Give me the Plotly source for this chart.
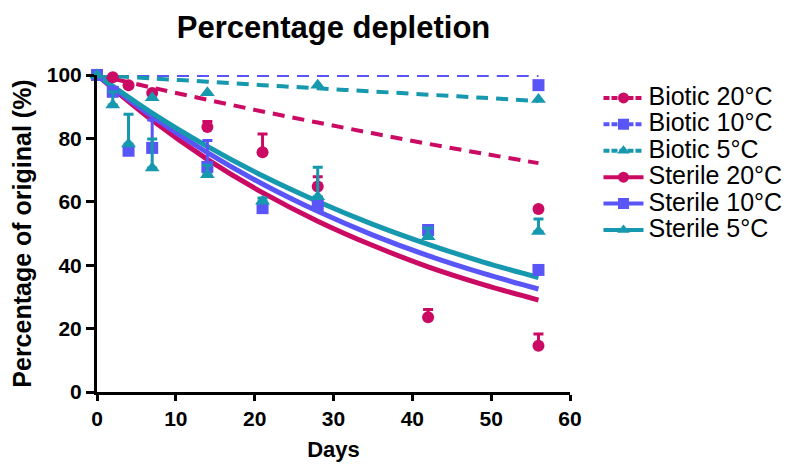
import plotly.graph_objects as go

# colours
c20 = '#CB0A63'
c10 = '#5A55F7'
c5 = '#1698AE'

# measured points (days, % of original, upward error)
b20_days = [0, 2, 4, 7, 56]
b20_vals = [100, 99.3, 96.8, 94.3, 57.7]

b10_days = [0, 56]
b10_vals = [100, 96.8]

b5_days = [0, 7, 14, 28, 56]
b5_vals = [100, 92.8, 94.4, 96.8, 92.3]

s20_days = [0, 14, 21, 28, 42, 56]
s20_vals = [100, 83.6, 75.6, 64.8, 23.6, 14.6]
s20_err = [0, 1.7, 5.8, 3.1, 2.4, 3.7]

s10_days = [0, 2, 4, 7, 14, 21, 28, 42, 56]
s10_vals = [100, 94.7, 76.1, 77.0, 71.0, 58.0, 59.0, 51.1, 38.5]
s10_err = [0, 0, 0, 8.8, 8.3, 0, 2.0, 0, 0]

s5_days = [0, 2, 4, 7, 14, 21, 28, 42, 56]
s5_vals = [100, 90.5, 78.2, 70.7, 68.5, 60.2, 61.6, 49.0, 50.6]
s5_err = [0, 4.2, 9.4, 9.1, 3.0, 1.0, 9.3, 2.7, 4.0]

# fitted decay curves, read at weekly points
fit_days = [0, 7, 14, 21, 28, 35, 42, 49, 56]
fit_b20 = [100, 96.0, 92.2, 88.5, 85.0, 81.6, 78.3, 75.2, 72.2]
fit_b10 = [100, 100, 100, 100, 100, 100, 100, 100, 100]
fit_b5 = [100, 98.9, 97.9, 96.8, 95.8, 94.8, 93.8, 92.8, 91.8]
fit_s20 = [100, 85.7, 73.4, 62.9, 53.9, 46.2, 39.5, 33.9, 29.0]
fit_s10 = [100, 86.9, 75.5, 65.6, 57.0, 49.5, 43.0, 37.4, 32.5]
fit_s5 = [100, 88.0, 77.5, 68.2, 60.1, 52.9, 46.6, 41.0, 36.1]

names = ['Biotic 20°C', 'Biotic 10°C', 'Biotic 5°C',
         'Sterile 20°C', 'Sterile 10°C', 'Sterile 5°C']
colours = [c20, c10, c5, c20, c10, c5]
symbols = ['circle', 'square', 'triangle-up', 'circle', 'square', 'triangle-up']
sizes = [12, 12, 13, 12, 12, 13]
dashes = ['12px,8px'] * 3 + ['solid'] * 3
fits = [fit_b20, fit_b10, fit_b5, fit_s20, fit_s10, fit_s5]
points = [(b20_days, b20_vals, None), (b10_days, b10_vals, None), (b5_days, b5_vals, None),
          (s20_days, s20_vals, s20_err), (s10_days, s10_vals, s10_err), (s5_days, s5_vals, s5_err)]

fig = go.Figure()

# fit lines
for i in range(6):
    fig.add_trace(go.Scatter(x=fit_days, y=fits[i], mode='lines', showlegend=False,
                             line=dict(color=colours[i], width=5 if i > 2 else 4,
                                       dash=dashes[i], shape='spline'),
                             hoverinfo='skip'))

# data points
for i in range(6):
    d, v, e = points[i]
    err = None
    if e is not None:
        err = dict(type='data', symmetric=False, array=e, arrayminus=[0] * len(e),
                   color=colours[i], thickness=3, width=5)
    fig.add_trace(go.Scatter(x=d, y=v, mode='markers', showlegend=False, error_y=err,
                             marker=dict(color=colours[i], symbol=symbols[i], size=sizes[i]),
                             cliponaxis=False))

# legend entries (bigger text inside a tighter legend row)
for i in range(6):
    fig.add_trace(go.Scatter(x=[None], y=[None], mode='lines+markers',
                             name='<span style="font-size:25px">' + names[i] + '</span>',
                             line=dict(color=colours[i], width=4,
                                       dash='6px,2px' if i < 3 else 'solid'),
                             marker=dict(color=colours[i], symbol=symbols[i], size=11)))

# page body adds 8px, so the figure is 790x457
fig.update_layout(
    width=790, height=457,
    margin=dict(l=89, r=227, t=67, b=73),
    plot_bgcolor='white', paper_bgcolor='white',
    font=dict(family='Liberation Sans, Arial, sans-serif', color='black'),
    title=dict(text='<b>Percentage depletion</b>', x=0.5, xref='paper', xanchor='center',
               y=0.958, yanchor='middle', font=dict(size=31)),
    legend=dict(x=1.058, y=0.985, xanchor='left', yanchor='top',
                font=dict(size=18), tracegroupgap=0, itemwidth=40),
)

fig.update_xaxes(range=[0, 60], tickvals=[0, 10, 20, 30, 40, 50, 60],
                 showline=True, linecolor='black', linewidth=3, automargin=False,
                 ticks='outside', ticklen=6, tickwidth=3, tickcolor='black',
                 showgrid=False, zeroline=False,
                 tickfont=dict(size=21, weight='bold'),
                 title=dict(text='<b>Days</b>', font=dict(size=22), standoff=13))
fig.update_yaxes(range=[0, 100], tickvals=[0, 20, 40, 60, 80, 100],
                 showline=True, linecolor='black', linewidth=3, automargin=False,
                 ticks='outside', ticklen=8, tickwidth=3, tickcolor='black',
                 showgrid=False, zeroline=False,
                 tickfont=dict(size=21, weight='bold'),
                 title=dict(text='<b>Percentage of original (%)</b>', font=dict(size=25), standoff=12))

fig.write_html('out.html')
